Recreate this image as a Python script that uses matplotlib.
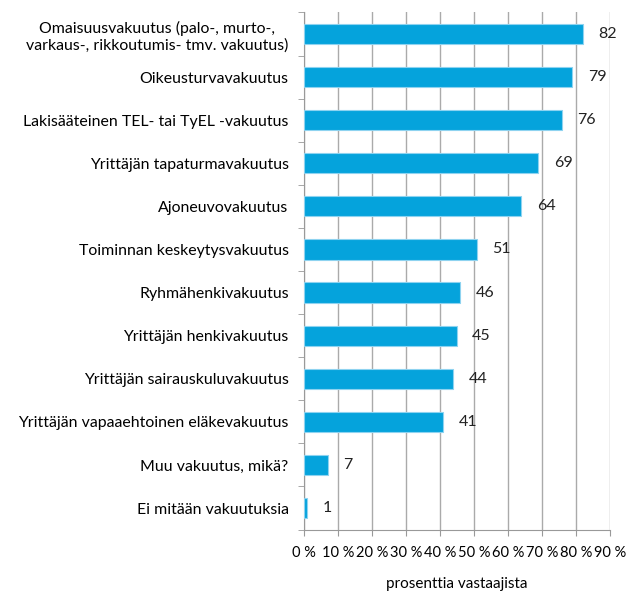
import matplotlib.pyplot as plt

plt.rcParams['font.family'] = ['Lato', 'DejaVu Sans']

categories = [
    'Omaisuusvakuutus (palo-, murto-,\nvarkaus-, rikkoutumis- tmv. vakuutus)',
    'Oikeusturvavakuutus',
    'Lakisääteinen TEL- tai TyEL -vakuutus',
    'Yrittäjän tapaturmavakuutus',
    'Ajoneuvovakuutus',
    'Toiminnan keskeytysvakuutus',
    'Ryhmähenkivakuutus',
    'Yrittäjän henkivakuutus',
    'Yrittäjän sairauskuluvakuutus',
    'Yrittäjän vapaaehtoinen eläkevakuutus',
    'Muu vakuutus, mikä?',
    'Ei mitään vakuutuksia',
]
values = [82, 79, 76, 69, 64, 51, 46, 45, 44, 41, 7, 1]
xticks = list(range(0, 91, 10))
xtick_labels = [f'{t} %' for t in xticks]

fig = plt.figure(figsize=(6.28, 5.93), dpi=100)
ax = fig.add_axes([0.484, 0.107, 0.487, 0.872])

pos = list(range(len(categories)))
ax.barh(pos, values, height=0.47, color='#05A3DC', edgecolor='#8ED3F0', linewidth=0.8, zorder=3)
for p, v in zip(pos, values):
    ax.annotate(str(v), (v, p), xytext=(11, 0), textcoords='offset points',
                va='center', ha='left', fontsize=11.5, color='#222222')

ax.set_ylim(len(categories) - 0.5, -0.5)
ax.set_xlim(0, 90)
ax.set_xticks(xticks)
ax.set_xticklabels(xtick_labels, fontsize=10.5)
ax.set_yticks(pos)
ax.set_yticklabels(categories, fontsize=11.4, multialignment='center')
ax.set_yticks([p + 0.5 for p in [-1] + pos], minor=True)
ax.tick_params(axis='y', which='major', length=0, pad=11)
ax.tick_params(axis='y', which='minor', length=4, color='#999999')
ax.tick_params(axis='x', length=4, color='#999999', pad=8)
ax.grid(axis='x', color='#aaaaaa', linewidth=1, zorder=0)
for s in ['top', 'right']:
    ax.spines[s].set_visible(False)
for s in ['left', 'bottom']:
    ax.spines[s].set_color('#999999')
ax.set_xlabel('prosenttia vastaajista', fontsize=11, labelpad=12)

fig.savefig('out.png')
